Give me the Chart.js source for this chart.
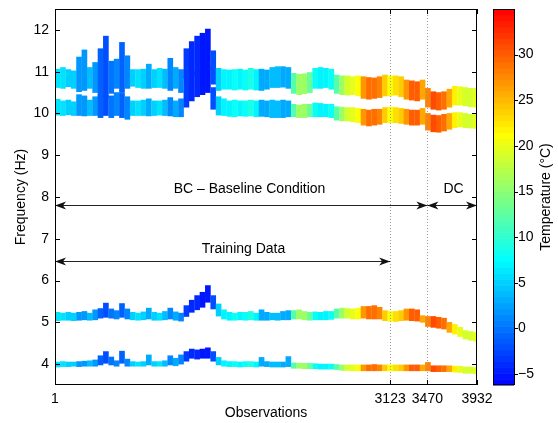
<!DOCTYPE html>
<html>
<head>
<meta charset="utf-8">
<script src="https://cdn.jsdelivr.net/npm/chart.js@4.4.0/dist/chart.umd.min.js"></script>
<style>
html,body{margin:0;padding:0;background:#fff;}
#wrap{width:558px;height:423px;}
</style>
</head>
<body>
<div id="wrap"><canvas id="chart" width="558" height="423"></canvas></div>
<script>
// observation index of each sample (centre of a 50-observation window)
const obs = [25,75,125,175,225,275,325,375,425,475,525,575,625,675,725,775,825,875,925,975,
  1025,1075,1125,1175,1225,1275,1325,1375,1425,1475,1525,1575,1625,1675,1725,1775,1825,1875,1925,1975,
  2025,2075,2125,2175,2225,2275,2325,2375,2425,2475,2525,2575,2625,2675,2725,2775,2825,2875,2925,2975,
  3025,3075,3125,3175,3225,3275,3325,3375,3425,3475,3525,3575,3625,3675,3725,3775,3825,3875,3925];

// temperature (°C) at each sample
const tempC = [6,6,5,5,2,2,4,2,-1,-2, 0,1,-1,1,5,6,5,3,5,6, 4,1,3,1,-3,-4,-4,-5,-5,-2,
  5,7,7,8,7,8,9,7,3,3, 4,4,3,3,12,16,16,13,8,7, 7,8,12,16,19,20,21,27,29,29,
  28,24,21,23,24,27,30,30,26,28, 31,30,29,26,22,20,19,19,20];

// frequency bands (Hz): low / high edge of each mode's cloud
const mode4Lo = [10.62,10.60,10.64,10.60,10.52,10.55,10.60,10.50,10.40,10.38, 10.48,10.60,10.50,10.60,10.65,10.62,10.60,10.60,10.62,10.62,
  10.60,10.55,10.60,10.50,10.85,10.90,10.95,11.00,11.05,10.70, 10.55,10.58,10.58,10.56,10.58,10.56,10.58,10.56,10.55,10.58,
  10.62,10.62,10.63,10.60,10.48,10.45,10.47,10.50,10.60,10.60, 10.62,10.58,10.48,10.45,10.44,10.45,10.42,10.36,10.34,10.36,
  10.38,10.42,10.42,10.44,10.40,10.34,10.32,10.30,10.34,10.15, 10.10,10.08,10.10,10.15,10.20,10.20,10.18,10.16,10.15];
const mode4Hi = [11.06,11.10,11.05,11.02,11.35,11.52,11.10,11.22,11.55,11.85, 11.25,11.30,11.70,11.38,11.05,11.05,11.06,11.18,11.05,11.08,
  11.06,11.32,11.10,11.05,11.55,11.72,11.85,11.92,12.02,11.50, 11.08,11.05,11.04,11.05,11.06,11.04,11.08,11.05,11.06,11.04,
  11.10,11.12,11.12,11.10,10.96,10.94,10.95,10.98,11.08,11.10, 11.08,11.06,10.92,10.90,10.90,10.88,10.90,10.88,10.86,10.85,
  10.88,10.92,10.90,10.90,10.88,10.80,10.78,10.76,10.80,10.60, 10.52,10.50,10.52,10.58,10.65,10.64,10.62,10.60,10.60];
const mode3Lo = [9.96,9.95,9.97,9.95,9.95,9.94,9.95,9.95,9.90,9.95, 9.90,9.95,9.90,9.86,9.95,9.95,9.95,9.94,9.95,9.96,
  9.95,9.94,9.92,9.92,10.15,10.30,10.40,10.45,10.50,10.10, 9.96,9.95,9.93,9.92,9.94,9.93,9.94,9.92,9.93,9.92,
  9.90,9.90,9.90,9.92,9.92,9.90,9.90,9.92,9.92,9.92, 9.92,9.90,9.84,9.82,9.82,9.80,9.78,9.72,9.70,9.72,
  9.74,9.78,9.78,9.78,9.76,9.74,9.72,9.72,9.74,9.60, 9.56,9.55,9.58,9.62,9.66,9.68,9.66,9.65,9.64];
const mode3Hi = [10.34,10.30,10.32,10.28,10.45,10.42,10.32,10.40,10.45,10.42, 10.42,10.50,10.48,10.40,10.30,10.30,10.32,10.35,10.30,10.30,
  10.32,10.38,10.30,10.35,10.90,10.95,11.00,11.05,11.10,10.62, 10.40,10.35,10.30,10.32,10.30,10.30,10.32,10.30,10.32,10.30,
  10.32,10.30,10.32,10.30,10.22,10.20,10.22,10.22,10.25,10.24, 10.22,10.22,10.16,10.15,10.14,10.14,10.12,10.10,10.08,10.10,
  10.10,10.14,10.15,10.14,10.12,10.10,10.08,10.08,10.12,10.00, 9.96,9.95,9.98,10.00,10.02,10.02,10.00,9.98,9.98];
const mode2Lo = [5.04,5.05,5.05,5.04,5.05,5.06,5.05,5.06,5.10,5.12, 5.10,5.08,5.12,5.08,5.06,5.05,5.06,5.08,5.05,5.05,
  5.06,5.08,5.05,5.03,5.14,5.24,5.30,5.36,5.48,5.32, 5.15,5.08,5.05,5.05,5.06,5.05,5.06,5.05,5.05,5.05,
  5.06,5.05,5.06,5.06,5.08,5.08,5.06,5.05,5.06,5.06, 5.06,5.07,5.10,5.10,5.10,5.08,5.08,5.10,5.08,5.08,
  5.08,5.04,5.03,5.02,5.04,5.05,5.04,5.03,5.00,4.90, 4.88,4.86,4.84,4.76,4.72,4.66,4.60,4.57,4.55];
const mode2Hi = [5.24,5.22,5.24,5.22,5.24,5.26,5.22,5.30,5.33,5.46, 5.32,5.28,5.45,5.32,5.24,5.22,5.25,5.34,5.24,5.22,
  5.26,5.34,5.25,5.22,5.40,5.53,5.64,5.72,5.88,5.64, 5.44,5.30,5.24,5.22,5.24,5.24,5.26,5.22,5.30,5.24,
  5.22,5.22,5.26,5.28,5.28,5.30,5.26,5.24,5.25,5.24, 5.26,5.26,5.32,5.34,5.33,5.32,5.34,5.38,5.38,5.40,
  5.36,5.28,5.26,5.26,5.28,5.32,5.32,5.30,5.16,5.14, 5.14,5.12,5.10,5.00,4.95,4.88,4.80,4.78,4.76];
const mode1Lo = [3.93,3.94,3.94,3.95,3.94,3.95,3.95,3.95,3.98,4.02, 3.98,3.95,4.02,3.95,3.95,3.95,3.95,3.98,3.95,3.95,
  3.95,3.98,3.96,4.00,4.07,4.14,4.12,4.14,4.14,4.07, 3.98,3.95,3.94,3.94,3.93,3.94,3.94,3.93,3.95,3.94,
  3.93,3.93,3.93,3.94,3.90,3.90,3.89,3.89,3.89,3.88, 3.88,3.88,3.87,3.85,3.85,3.84,3.84,3.84,3.84,3.84,
  3.84,3.84,3.84,3.84,3.84,3.84,3.84,3.84,3.84,3.84, 3.82,3.82,3.82,3.82,3.81,3.80,3.78,3.78,3.77];
const mode1Hi = [4.05,4.06,4.05,4.05,4.06,4.07,4.08,4.10,4.20,4.30, 4.17,4.08,4.31,4.12,4.06,4.05,4.06,4.22,4.06,4.06,
  4.08,4.20,4.14,4.22,4.30,4.36,4.34,4.36,4.39,4.30, 4.16,4.08,4.06,4.06,4.05,4.06,4.06,4.05,4.16,4.06,
  4.05,4.05,4.05,4.18,4.03,4.02,4.02,4.02,4.01,4.00, 4.00,4.00,3.99,3.98,3.98,3.98,3.98,3.98,3.98,3.99,
  3.98,3.98,3.98,3.98,3.98,3.98,3.98,3.98,3.98,4.04, 3.96,3.96,3.96,3.96,3.95,3.95,3.93,3.93,3.92];

const xTicks = [1, 3123, 3470, 3932];
const yTicks = [4,5,6,7,8,9,10,11,12];
const tempTicks = [-5,0,5,10,15,20,25,30];
const TEMP_MIN = -6.2, TEMP_MAX = 35;

const splits = [3123, 3470];
const arrows = [
  {from: 1, to: 3470, y: 7.8},
  {from: 3470, to: 3932, y: 7.8},
  {from: 1, to: 3123, y: 6.48}
];
const notes = [
  {text: 'BC \u2013 Baseline Condition', x: 1813, y: 8.19},
  {text: 'DC', x: 3713, y: 8.19},
  {text: 'Training Data', x: 1757, y: 6.75}
];

const FONT = '"Liberation Sans", Arial, Helvetica, sans-serif';

function jet(t){
  const v = Math.max(0, Math.min(1, (t - TEMP_MIN) / (TEMP_MAX - TEMP_MIN)));
  let r, g, b;
  if(v < 1/3){ r = 0; g = v*3; b = 1; }
  else if(v < 2/3){ r = (v-1/3)*3; g = 1; b = 1-(v-1/3)*3; }
  else { r = 1; g = 1-(v-2/3)*3; b = 0; }
  return `rgb(${Math.round(r*255)},${Math.round(g*255)},${Math.round(b*255)})`;
}

function band(lo, hi){
  return {
    data: obs.map((o,i) => ({x: o, y: [lo[i], hi[i]]})),
    backgroundColor: tempC.map(jet),
    borderWidth: 0,
    barThickness: 5,
    grouped: false
  };
}

function arrowHead(ctx, x, y, dir){
  ctx.beginPath();
  ctx.moveTo(x, y);
  ctx.lineTo(x - dir*11, y - 4);
  ctx.lineTo(x - dir*8, y);
  ctx.lineTo(x - dir*11, y + 4);
  ctx.closePath();
  ctx.fill();
}

// dotted markers, arrows, text, frame, inner ticks, colorbar
const decor = {
  id: 'decor',
  afterDatasetsDraw(chart){
    const {ctx, chartArea: a, scales: {x, y, temp}} = chart;
    ctx.save();

    ctx.strokeStyle = '#9a9a9a';
    ctx.lineWidth = 1;
    ctx.setLineDash([1, 2]);
    splits.forEach(s => {
      const px = Math.round(x.getPixelForValue(s)) + 0.5;
      ctx.beginPath(); ctx.moveTo(px, a.top); ctx.lineTo(px, a.bottom); ctx.stroke();
    });
    ctx.setLineDash([]);

    ctx.strokeStyle = '#222'; ctx.fillStyle = '#111';
    arrows.forEach(ar => {
      const x1 = x.getPixelForValue(ar.from), x2 = x.getPixelForValue(ar.to);
      const py = Math.round(y.getPixelForValue(ar.y)) + 0.5;
      ctx.beginPath(); ctx.moveTo(x1, py); ctx.lineTo(x2, py); ctx.stroke();
      arrowHead(ctx, x1, py, -1);
      arrowHead(ctx, x2, py, 1);
    });

    ctx.fillStyle = '#000';
    ctx.font = '14px ' + FONT;
    ctx.textAlign = 'center'; ctx.textBaseline = 'middle';
    notes.forEach(n => ctx.fillText(n.text, x.getPixelForValue(n.x), y.getPixelForValue(n.y)));

    // frame
    ctx.strokeStyle = '#000';
    ctx.strokeRect(a.left + 0.5, a.top + 0.5, a.right - a.left - 1, a.bottom - a.top - 1);
    // inner ticks
    ctx.beginPath();
    yTicks.forEach(v => {
      const py = Math.round(y.getPixelForValue(v)) + 0.5;
      ctx.moveTo(a.left, py); ctx.lineTo(a.left + 5, py);
      ctx.moveTo(a.right, py); ctx.lineTo(a.right - 5, py);
    });
    xTicks.forEach(v => {
      const px = Math.round(x.getPixelForValue(v)) + 0.5;
      ctx.moveTo(px, a.bottom); ctx.lineTo(px, a.bottom - 5);
      ctx.moveTo(px, a.top); ctx.lineTo(px, a.top + 5);
    });
    ctx.stroke();

    // colorbar
    const cx = temp.left + 16, cw = 21;
    const steps = 64;
    for(let i = 0; i < steps; i++){
      const t0 = TEMP_MIN + (TEMP_MAX - TEMP_MIN) * i / steps;
      const t1 = TEMP_MIN + (TEMP_MAX - TEMP_MIN) * (i + 1) / steps;
      const p0 = temp.getPixelForValue(t0), p1 = temp.getPixelForValue(t1);
      ctx.fillStyle = jet((t0 + t1) / 2);
      ctx.fillRect(cx, p1, cw, p0 - p1 + 0.6);
    }
    ctx.strokeStyle = '#000';
    ctx.strokeRect(cx + 0.5, temp.top + 0.5, cw, temp.bottom - temp.top - 1);
    ctx.beginPath();
    tempTicks.forEach(v => {
      const py = Math.round(temp.getPixelForValue(v)) + 0.5;
      ctx.moveTo(cx + cw, py); ctx.lineTo(cx + cw + 4, py);
    });
    ctx.stroke();

    ctx.save();
    ctx.translate(temp.left + 69, (temp.top + temp.bottom) / 2);
    ctx.rotate(-Math.PI / 2);
    ctx.fillStyle = '#000';
    ctx.font = '14px ' + FONT;
    ctx.textAlign = 'center'; ctx.textBaseline = 'middle';
    ctx.fillText('Temperature (\u00B0C)', 0, 0);
    ctx.restore();

    ctx.restore();
  }
};

const tickFont = {family: FONT, size: 14};

new Chart(document.getElementById('chart'), {
  type: 'bar',
  data: {
    datasets: [
      band(mode4Lo, mode4Hi),
      band(mode3Lo, mode3Hi),
      band(mode2Lo, mode2Hi),
      band(mode1Lo, mode1Hi)
    ]
  },
  options: {
    responsive: false,
    animation: false,
    layout: {padding: {top: 9, left: 0, right: 0, bottom: 0}},
    plugins: {legend: {display: false}, tooltip: {enabled: false}},
    scales: {
      x: {
        type: 'linear', min: 1, max: 3932, offset: false,
        grid: {display: false, drawTicks: true, tickLength: 6}, border: {display: false},
        afterBuildTicks: s => { s.ticks = xTicks.map(v => ({value: v})); },
        afterFit: s => { s.height = 38; },
        ticks: {autoSkip: false, maxRotation: 0, padding: 0, color: '#000', font: tickFont,
          callback: v => String(v)},
        title: {display: true, text: 'Observations', color: '#000', font: tickFont, padding: {top: 0, bottom: 1}}
      },
      y: {
        type: 'linear', min: 3.5, max: 12.5,
        grid: {display: false, drawTicks: true, tickLength: 6}, border: {display: false},
        afterBuildTicks: s => { s.ticks = yTicks.map(v => ({value: v})); },
        afterFit: s => { s.width = 55; },
        ticks: {padding: 0, color: '#000', font: tickFont},
        title: {display: true, text: 'Frequency (Hz)', color: '#000', font: tickFont, padding: {top: 13, bottom: 0}}
      },
      temp: {
        type: 'linear', position: 'right', min: TEMP_MIN, max: TEMP_MAX,
        grid: {display: false, drawTicks: true, tickLength: 41}, border: {display: false},
        afterBuildTicks: s => { s.ticks = tempTicks.map(v => ({value: v})); },
        afterFit: s => { s.width = 81; },
        ticks: {padding: 0, color: '#000', font: tickFont,
          callback: v => v < 0 ? '\u2212' + Math.abs(v) : String(v)}
      }
    }
  },
  plugins: [decor]
});
</script>
</body>
</html>
